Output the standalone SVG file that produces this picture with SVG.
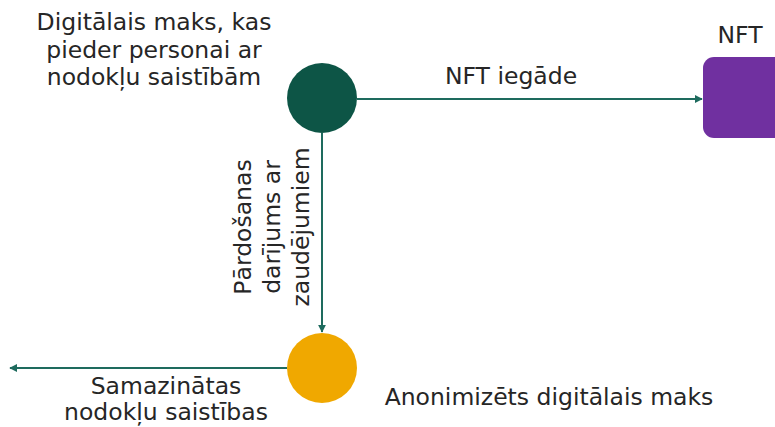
<svg xmlns="http://www.w3.org/2000/svg" width="775" height="427" viewBox="0 0 775 427">
<style>
text{font-family:"DejaVu Sans","Noto Sans",sans-serif;font-size:23.5px;fill:#262626}
.c{text-anchor:middle}
.conn{stroke:#1E6B5E;stroke-width:2;fill:none;marker-end:url(#ah)}
</style>
<defs>
<marker id="ah" viewBox="0 0 10 10" refX="9" refY="5" markerWidth="4" markerHeight="4" orient="auto" markerUnits="strokeWidth">
<path d="M0,0 L10,5 L0,10 z" fill="#1E6B5E"/>
</marker>
</defs>
<rect width="775" height="427" fill="#ffffff"/>
<g id="connectors">
<path class="conn" d="M357,99 H702"/>
<path class="conn" d="M322,133 V332"/>
<path class="conn" d="M287,368 H10"/>
<text x="511" y="84" class="c">NFT iegāde</text>
<text transform="translate(251,227) rotate(-90)" class="c">Pārdošanas</text>
<text transform="translate(280,227) rotate(-90)" class="c">darījums ar</text>
<text transform="translate(309,227) rotate(-90)" class="c">zaudējumiem</text>
<text x="166" y="394" class="c">Samazinātas</text>
<text x="166" y="420" class="c">nodokļu saistības</text>
</g>
<g id="wallet">
<circle cx="322" cy="98" r="35" fill="#0D5546"/>
<text x="154" y="30" class="c">Digitālais maks, kas</text>
<text x="154" y="58" class="c">pieder personai ar</text>
<text x="154" y="85" class="c">nodokļu saistībām</text>
</g>
<g id="nft">
<rect x="703" y="57" width="90" height="81" rx="11" fill="#7030A0"/>
<text x="740" y="43" class="c">NFT</text>
</g>
<g id="anon">
<circle cx="322" cy="368" r="35" fill="#F0A800"/>
<text x="549" y="405" class="c">Anonimizēts digitālais maks</text>
</g>
</svg>
